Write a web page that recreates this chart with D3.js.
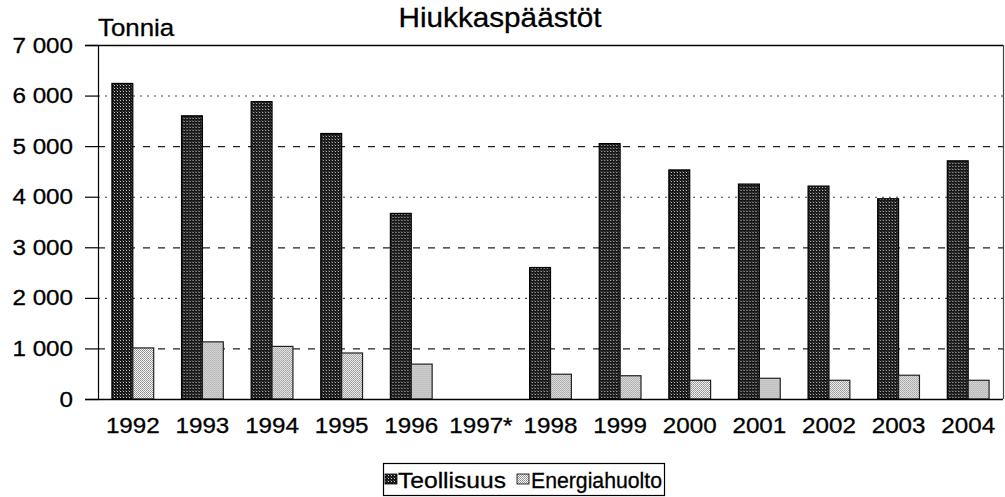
<!DOCTYPE html>
<html>
<head>
<meta charset="utf-8">
<script src="https://cdn.jsdelivr.net/npm/d3@7"></script>
<style>
  html, body { margin: 0; padding: 0; background: #fff; }
  svg text { font-family: "Liberation Sans", Arial, sans-serif; fill: #000; stroke: #000; stroke-width: 0.3px; }
</style>
</head>
<body>
<svg id="chart" width="1005" height="497"></svg>
<script>
// Hiukkaspäästöt (tonnia) vuosittain
const years = ["1992","1993","1994","1995","1996","1997*","1998","1999","2000","2001","2002","2003","2004"];
const teollisuus = [6240, 5600, 5880, 5250, 3670, null, 2600, 5050, 4530, 4250, 4210, 3960, 4710];
const energiahuolto = [1010, 1130, 1040, 910, 690, null, 490, 460, 370, 410, 370, 470, 370];
const seriesNames = ["Teollisuus", "Energiahuolto"];
const yTicks = [0, 1000, 2000, 3000, 4000, 5000, 6000, 7000];
const titleText = "Hiukkaspäästöt";
const unitText = "Tonnia";

const svg = d3.select("#chart");
const plotLeft = 98, plotRight = 1003, plotTop = 45, plotBottom = 399;
const textStretch = 1.1;

// widen glyphs horizontally while keeping each text's anchor point fixed
function stretch(sel, s) {
  sel.each(function () {
    const t = d3.select(this);
    const x = +t.attr("x") || 0;
    t.attr("transform", `translate(${x * (1 - s)},0) scale(${s},1)`);
  });
}

const x0 = d3.scaleBand().domain(years).range([plotLeft, plotRight]).padding(0);
const x1 = d3.scaleBand().domain(seriesNames)
  .range([x0.bandwidth() * 0.2, x0.bandwidth() * 0.8]).padding(0);
const y = d3.scaleLinear().domain([0, 7000]).range([plotBottom, plotTop]);

// halftone fills
const defs = svg.append("defs");
const pDark = defs.append("pattern").attr("id", "pDark")
  .attr("patternUnits", "userSpaceOnUse").attr("width", 3).attr("height", 3);
pDark.append("rect").attr("width", 3).attr("height", 3).attr("fill", "#181818");
pDark.append("rect").attr("x", 1).attr("y", 1).attr("width", 1).attr("height", 1).attr("fill", "#c8c8c8");
pDark.append("rect").attr("x", 0).attr("y", 0).attr("width", 1).attr("height", 1).attr("fill", "#505050");
const pLight = defs.append("pattern").attr("id", "pLight")
  .attr("patternUnits", "userSpaceOnUse").attr("width", 2).attr("height", 2);
pLight.append("rect").attr("width", 2).attr("height", 2).attr("fill", "#f6f6f6");
pLight.append("rect").attr("x", 0).attr("y", 0).attr("width", 1).attr("height", 1).attr("fill", "#8c8c8c");
pLight.append("rect").attr("x", 1).attr("y", 1).attr("width", 1).attr("height", 1).attr("fill", "#a0a0a0");
const fills = { "Teollisuus": "url(#pDark)", "Energiahuolto": "url(#pLight)" };
const strokes = { "Teollisuus": "#000", "Energiahuolto": "#222" };

// gridlines: dotted and dashed alternating
const grid = svg.append("g");
yTicks.filter(t => t > 0 && t < 7000).forEach(t => {
  const dashed = (t / 1000) % 2 === 1;
  grid.append("line")
    .attr("x1", plotLeft).attr("x2", plotRight)
    .attr("y1", y(t) + 0.5).attr("y2", y(t) + 0.5)
    .attr("stroke", dashed ? "#222" : "#444").attr("stroke-width", dashed ? 1.3 : 1.1)
    .attr("stroke-dasharray", dashed ? "7,8" : "2,5");
});

// plot frame: top and right edges
svg.append("line").attr("x1", plotLeft - 13).attr("x2", plotRight)
  .attr("y1", y(7000) + 0.5).attr("y2", y(7000) + 0.5)
  .attr("stroke", "#000").attr("stroke-width", 1.5);
svg.append("line").attr("x1", plotRight + 0.5).attr("x2", plotRight + 0.5)
  .attr("y1", y(7000)).attr("y2", y(0))
  .attr("stroke", "#444").attr("stroke-width", 1.2);

// bars
const rows = years.map((yr, i) => ({ year: yr, values: [
  { key: "Teollisuus", value: teollisuus[i] },
  { key: "Energiahuolto", value: energiahuolto[i] }
]}));
const groups = svg.append("g").selectAll("g").data(rows).join("g")
  .attr("transform", d => `translate(${x0(d.year)},0)`);
groups.selectAll("rect").data(d => d.values.filter(v => v.value != null)).join("rect")
  .attr("x", d => x1(d.key))
  .attr("y", d => y(d.value))
  .attr("width", x1.bandwidth())
  .attr("height", d => y(0) - y(d.value))
  .attr("fill", d => fills[d.key])
  .attr("stroke", d => strokes[d.key])
  .attr("stroke-width", 1.2);

// y axis
const yAxis = d3.axisLeft(y).tickValues(yTicks).tickSize(13).tickPadding(12)
  .tickFormat(d => d3.format(",")(d).replace(/,/g, " "));
const ya = svg.append("g").attr("transform", `translate(${plotLeft},0)`).call(yAxis);
ya.select(".domain").attr("stroke", "#000").attr("stroke-width", 1.2);
ya.selectAll(".tick line").attr("stroke", "#000").attr("stroke-width", 1.2);
ya.selectAll("text").style("font-size", "22px").attr("fill", "#000").call(stretch, textStretch);

// x axis
const xAxis = d3.axisBottom(x0).tickSize(0).tickPadding(18);
const xa = svg.append("g").attr("transform", `translate(0,${plotBottom})`).call(xAxis);
xa.select(".domain").remove();
svg.append("line").attr("x1", plotLeft - 13).attr("x2", plotRight)
  .attr("y1", plotBottom + 0.5).attr("y2", plotBottom + 0.5)
  .attr("stroke", "#000").attr("stroke-width", 1.5);
xa.selectAll("text").style("font-size", "22px").attr("fill", "#000").call(stretch, textStretch);

// titles
svg.append("text").attr("x", 500).attr("y", 27).attr("text-anchor", "middle")
  .style("font-size", "27px").text(titleText).call(stretch, textStretch);
svg.append("text").attr("x", 98).attr("y", 36)
  .style("font-size", "23.5px").text(unitText).call(stretch, textStretch);

// legend
const lg = svg.append("g");
lg.append("rect").attr("x", 383.5).attr("y", 463.5).attr("width", 281).attr("height", 32)
  .attr("fill", "#fff").attr("stroke", "#000").attr("stroke-width", 1.2);
const legendItems = [
  { key: "Teollisuus", sx: 385, tx: 398, len: 108 },
  { key: "Energiahuolto", sx: 517, tx: 531, len: 131 }
];
legendItems.forEach(it => {
  lg.append("rect").attr("x", it.sx).attr("y", 474).attr("width", 12).attr("height", 10)
    .attr("fill", fills[it.key]).attr("stroke", "#000").attr("stroke-width", 0.8);
  lg.append("text").attr("x", it.tx).attr("y", 488).style("font-size", "22px")
    .attr("textLength", it.len).attr("lengthAdjust", "spacingAndGlyphs").text(it.key);
});
</script>
</body>
</html>
